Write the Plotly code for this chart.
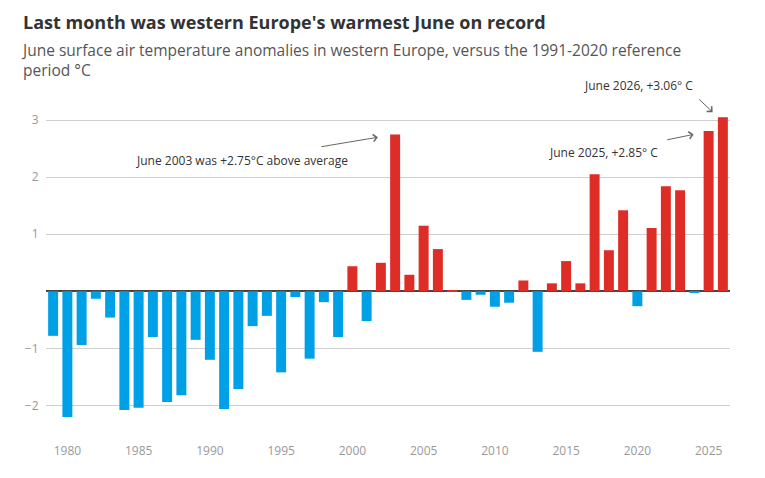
import plotly.graph_objects as go

# June anomalies vs 1991-2020, western Europe
years = list(range(1979, 2027))
anomaly = [
    -0.78, -2.20, -0.94, -0.13, -0.46, -2.08, -2.04, -0.80, -1.94, -1.82,
    -0.85, -1.20, -2.06, -1.71, -0.61, -0.43, -1.42, -0.10, -1.18, -0.19,
    -0.80, 0.44, -0.52, 0.50, 2.75, 0.29, 1.15, 0.74, 0.02, -0.15,
    -0.06, -0.27, -0.20, 0.19, -1.06, 0.14, 0.53, 0.14, 2.05, 0.72,
    1.42, -0.26, 1.11, 1.84, 1.77, -0.03, 2.81, 3.05,
]
ytick_vals = [-2, -1, 1, 2, 3]
ytick_text = ["\u22122", "\u22121", "1", "2", "3"]
xtick_vals = [1980, 1985, 1990, 1995, 2000, 2005, 2010, 2015, 2020, 2025]

RED = "#de2d26"
BLUE = "#00a0e6"
colors = [RED if v > 0 else BLUE for v in anomaly]

fig = go.Figure()
fig.add_trace(go.Bar(x=years, y=anomaly, marker=dict(color=colors, line=dict(width=0)),
                     width=0.7, hoverinfo="x+y"))

fig.update_layout(
    width=765, height=478,
    margin=dict(l=46, r=35, t=103, b=44),
    paper_bgcolor="white", plot_bgcolor="white",
    font=dict(family="Open Sans", color="#333"),
    showlegend=False,
    title=dict(text="<b>Last month was western Europe's warmest June on record</b>",
               x=23 / 765, xref="container", xanchor="left",
               y=1 - 23 / 478, yref="container", yanchor="middle",
               font=dict(size=18, color="#333")),
)
fig.update_xaxes(range=[1978.5, 2026.5], tickvals=xtick_vals, showgrid=False,
                 zeroline=False, showline=False, ticks="outside", ticklen=6,
                 tickcolor="rgba(0,0,0,0)", tickfont=dict(size=12, color="#999"))
fig.update_yaxes(range=[-2.5, 3.3], tickvals=ytick_vals, ticktext=ytick_text,
                 showgrid=True, gridcolor="#d0d0d0", gridwidth=1,
                 zeroline=True, zerolinecolor="#444", zerolinewidth=1.5,
                 ticks="outside", ticklen=4, tickcolor="rgba(0,0,0,0)",
                 tickfont=dict(size=12, color="#999"))

fig.add_annotation(text="June surface air temperature anomalies in western Europe, versus the 1991-2020 reference<br>period \u00b0C",
                   xref="paper", yref="paper", x=-27 / 684, y=(434 - 37) / 331,
                   xanchor="left", yanchor="top", align="left", showarrow=False,
                   font=dict(size=15.5, color="#555"))

# labels
note_font = dict(size=12, color="#333")
fig.add_annotation(text="June 2003 was +2.75\u00b0C above average", x=1992.25, y=2.30,
                   showarrow=False, font=note_font)
fig.add_annotation(text="June 2025, +2.85\u00b0 C", x=2017.64, y=2.44,
                   showarrow=False, font=note_font)
# this one sits above the axis range, so it goes in paper coords
fig.add_annotation(text="June 2026, +3.06\u00b0 C", xref="paper", yref="paper",
                   x=(638 - 46) / 684, y=(434 - 85) / 331,
                   xanchor="center", yanchor="middle",
                   showarrow=False, font=note_font)

# arrows
for head, tail in [((2001.79, 2.70), (1997.72, 2.53)),
                   ((2023.95, 2.75), (2021.99, 2.65)),
                   ((2025.28, 3.14), (2024.23, 3.39))]:
    fig.add_annotation(text="", x=head[0], y=head[1], ax=tail[0], ay=tail[1],
                       axref="x", ayref="y", showarrow=True, arrowhead=4,
                       arrowsize=1.4, arrowwidth=1, arrowcolor="#666")

fig.write_html("out.html", config={"displayModeBar": False},
               post_script="document.body.style.margin='0';")
